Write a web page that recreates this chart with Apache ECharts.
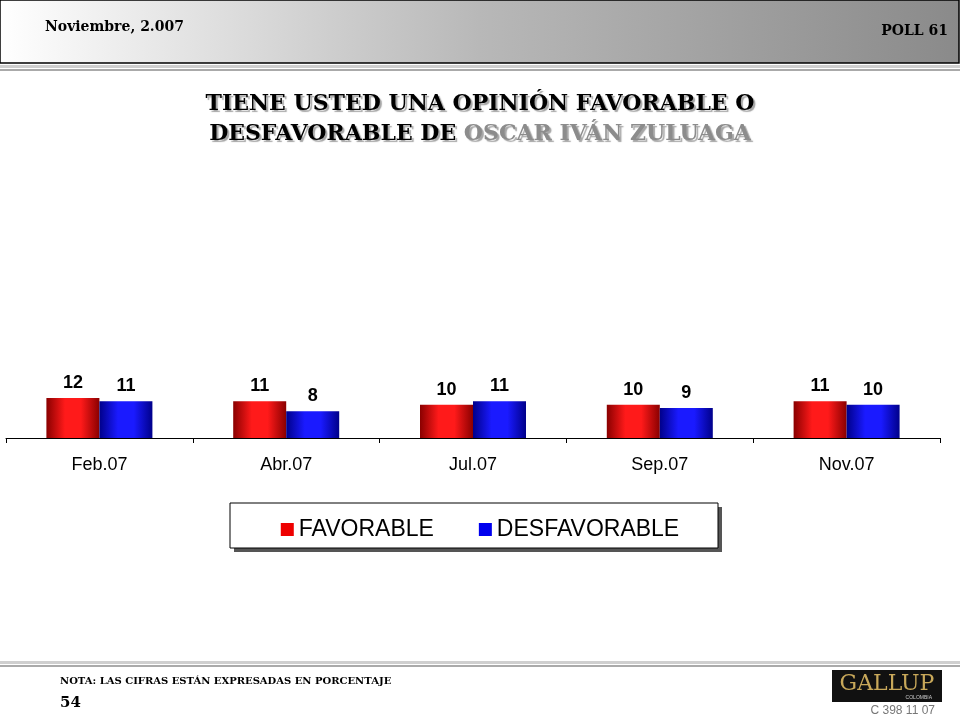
<!DOCTYPE html>
<html>
<head>
<meta charset="utf-8">
<script src="https://cdn.jsdelivr.net/npm/echarts@6/dist/echarts.min.js"></script>
<style>html,body{margin:0;padding:0;background:#fff}#main{width:960px;height:720px}</style>
</head>
<body>
<div id="main"></div>
<script>
var categories = ['Feb.07', 'Abr.07', 'Jul.07', 'Sep.07', 'Nov.07'];
var favorable = [12, 11, 10, 10, 11];
var desfavorable = [11, 8, 11, 9, 10];

var chart = echarts.init(document.getElementById('main'));

function grad(dark, mid) {
    return new echarts.graphic.LinearGradient(0, 0, 1, 0, [
        {offset: 0, color: dark}, {offset: 0.35, color: mid},
        {offset: 0.65, color: mid}, {offset: 1, color: dark}
    ]);
}
var serif = '"DejaVu Serif", "Liberation Serif", serif';
var lbl = {show: true, position: 'top', distance: 6, color: '#000', fontSize: 18, fontWeight: 'bold', fontFamily: 'Liberation Sans, Arial'};
var shadow = {textShadowColor: 'rgba(0,0,0,0.35)', textShadowOffsetX: 2, textShadowOffsetY: 2, textShadowBlur: 1};

chart.setOption({
    animation: false,
    graphic: [
        {type: 'rect', shape: {x: 0, y: 0, width: 959, height: 63},
            style: {fill: new echarts.graphic.LinearGradient(0, 0, 1, 0, [
                {offset: 0, color: '#ffffff'}, {offset: 0.5, color: '#b8b8b8'}, {offset: 1, color: '#8a8a8a'}]),
                stroke: '#000', lineWidth: 1.5}},
        {type: 'rect', shape: {x: 0, y: 65, width: 960, height: 3}, style: {fill: '#cfcfcf'}},
        {type: 'rect', shape: {x: 0, y: 69, width: 960, height: 2}, style: {fill: '#aaaaaa'}},
        {type: 'text', left: 45, top: 20, style: {text: 'Noviembre, 2.007', font: 'bold 14px ' + serif, fill: '#000'}},
        {type: 'text', right: 12, top: 24, style: {text: 'POLL 61', font: 'bold 14px ' + serif, fill: '#000'}},
        {type: 'text', x: 480, y: 119, style: Object.assign({
            text: 'TIENE USTED UNA OPINIÓN FAVORABLE O\n{b|DESFAVORABLE DE }{g|OSCAR IVÁN ZULUAGA}',
            align: 'center', verticalAlign: 'middle', lineHeight: 30,
            font: 'bold 22px ' + serif, fill: '#000',
            rich: {
                b: Object.assign({font: 'bold 22px ' + serif, fill: '#000'}, shadow),
                g: Object.assign({font: 'bold 22px ' + serif, fill: '#8c8c8c'}, shadow)
            }}, shadow)},
        {type: 'rect', shape: {x: 234, y: 507, width: 488, height: 45}, style: {fill: '#555'}},
        {type: 'rect', shape: {x: 230, y: 503, width: 488, height: 45}, style: {fill: '#fff', stroke: '#000', lineWidth: 1}},
        {type: 'rect', shape: {x: 0, y: 661, width: 960, height: 3}, style: {fill: '#cfcfcf'}},
        {type: 'rect', shape: {x: 0, y: 665, width: 960, height: 2}, style: {fill: '#aaaaaa'}},
        {type: 'text', left: 60, top: 676, style: {text: 'NOTA: LAS CIFRAS ESTÁN EXPRESADAS EN PORCENTAJE', font: 'bold 10px ' + serif, fill: '#000'}},
        {type: 'text', left: 60, top: 696, style: {text: '54', font: 'bold 15px ' + serif, fill: '#000'}},
        {type: 'rect', shape: {x: 832, y: 670, width: 110, height: 32}, style: {fill: '#111'}},
        {type: 'text', x: 887, y: 684, style: {text: 'GALLUP', align: 'center', verticalAlign: 'middle', font: '22px ' + serif, fill: '#c8a85a'}},
        {type: 'text', x: 932, y: 698, style: {text: 'COLOMBIA', align: 'right', verticalAlign: 'middle', font: '5px sans-serif', fill: '#ccc'}},
        {type: 'text', x: 935, y: 711, style: {text: 'C 398 11 07', align: 'right', verticalAlign: 'middle', font: '12px "Liberation Sans", sans-serif', fill: '#777'}}
    ],
    legend: {
        top: 513, left: 'center', itemWidth: 13, itemHeight: 13, itemGap: 45,
        icon: 'rect',
        textStyle: {fontSize: 23, fontFamily: 'Liberation Sans, Arial', color: '#000'},
        data: [{name: 'FAVORABLE', itemStyle: {color: '#ee0000'}}, {name: 'DESFAVORABLE', itemStyle: {color: '#0000ee'}}]
    },
    grid: {left: 6, right: 20, top: 338, bottom: 282},
    xAxis: {
        type: 'category', data: categories,
        axisLine: {lineStyle: {color: '#000'}},
        axisTick: {show: true, length: 5, lineStyle: {color: '#000'}},
        axisLabel: {fontSize: 18, color: '#000', fontFamily: 'Liberation Sans, Arial', margin: 18}
    },
    yAxis: {type: 'value', min: 0, max: 30, show: false, splitLine: {show: false}},
    series: [
        {name: 'FAVORABLE', type: 'bar', data: favorable, barWidth: 53, barGap: '0%',
            itemStyle: {color: grad('#8a0000', '#ff1a1a')}, label: lbl},
        {name: 'DESFAVORABLE', type: 'bar', data: desfavorable, barWidth: 53,
            itemStyle: {color: grad('#00008a', '#1a1aff')}, label: lbl}
    ]
});
</script>
</body>
</html>
